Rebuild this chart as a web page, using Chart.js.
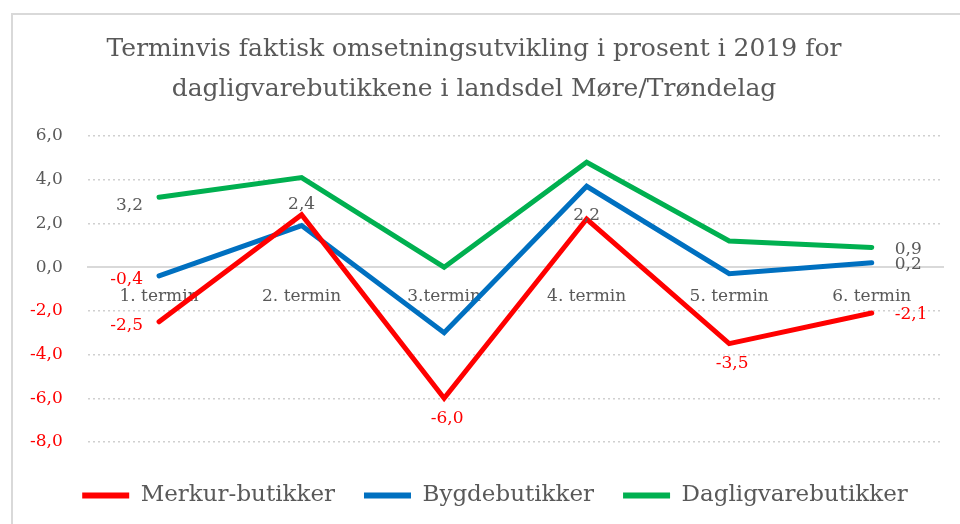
<!DOCTYPE html>
<html>
<head>
<meta charset="utf-8">
<script src="https://cdn.jsdelivr.net/npm/chart.js@4/dist/chart.umd.min.js"></script>
<style>
  html, body { margin: 0; padding: 0; background: #fff; }
  #wrap { position: relative; width: 960px; height: 524px; overflow: hidden; }
  #frame { position: absolute; left: 11px; top: 13px; width: 2000px; height: 2000px;
           border: 2px solid #d9d9d9; box-sizing: border-box; }
  #myChart { position: absolute; left: 0; top: 0; }
</style>
</head>
<body>
<div id="wrap">
  <div id="frame"></div>
  <canvas id="myChart" width="960" height="524"></canvas>
</div>
<script>
// data
const terms = ["1. termin", "2. termin", "3.termin", "4. termin", "5. termin", "6. termin"];
const merkur = [-2.5, 2.4, -6.0, 2.2, -3.5, -2.1];
const bygde = [-0.4, 1.9, -3.0, 3.7, -0.3, 0.2];
const daglig = [3.2, 4.1, 0.0, 4.8, 1.2, 0.9];
const yTicks = [-8, -6, -4, -2, 0, 2, 4, 6];

const SERIF = "'DejaVu Serif', 'Liberation Serif', serif";
const GRAY = "#595959";
const RED = "#ff0000";

// which points get a value label, and where it sits
const labelPlaces = [
  { 0: "left", 1: "above", 2: "below", 3: "above2", 4: "below", 5: "right" },
  { 0: "left", 5: "right" },
  { 0: "left3", 5: "right" },
];

function fmt(v) {
  return v.toFixed(1).replace(".", ",");
}

const valueLabels = {
  id: "valueLabels",
  afterLayout(chart) {
    // legend sits a bit right of centre in the original
    chart.legend.left += 21;
    chart.legend.right += 21;
  },
  afterDatasetsDraw(chart) {
    const ctx = chart.ctx;
    ctx.save();
    ctx.font = "17px " + SERIF;
    ctx.textBaseline = "middle";
    chart.data.datasets.forEach((ds, di) => {
      const meta = chart.getDatasetMeta(di);
      const places = labelPlaces[di];
      Object.keys(places).forEach((k) => {
        const i = Number(k);
        const pt = meta.data[i];
        const v = ds.data[i];
        const where = places[k];
        let x = pt.x, y = pt.y;
        ctx.textAlign = "center";
        if (where === "left") { ctx.textAlign = "right"; x -= 16; y += 4; }
        else if (where === "left3") { ctx.textAlign = "right"; x -= 16; y += 8; }
        else if (where === "right") { ctx.textAlign = "left"; x += 23; y += 2; }
        else if (where === "above") { y -= 10; }
        else if (where === "above2") { y -= 3; }
        else if (where === "below") { y += 20; x += 3; }
        ctx.fillStyle = v < 0 ? RED : GRAY;
        ctx.fillText(fmt(v), x, y);
      });
    });
    ctx.restore();
  },
};

function line(label, data, color) {
  return {
    label: label,
    data: data,
    borderColor: color,
    backgroundColor: color,
    borderWidth: 5,
    pointRadius: 0,
    tension: 0,
    borderCapStyle: "round",
    borderJoinStyle: "miter",
  };
}

const ctx = document.getElementById("myChart");
new Chart(ctx, {
  type: "line",
  data: {
    labels: terms,
    datasets: [
      line("Merkur-butikker", merkur, "#ff0000"),
      line("Bygdebutikker", bygde, "#0070c0"),
      line("Dagligvarebutikker", daglig, "#00b050"),
    ],
  },
  plugins: [valueLabels],
  options: {
    responsive: false,
    animation: false,
    layout: { padding: { top: 9, left: 5, right: 17, bottom: 7 } },
    plugins: {
      title: {
        display: true,
        text: [
          "Terminvis faktisk omsetningsutvikling i prosent i 2019 for",
          "dagligvarebutikkene i landsdel Møre/Trøndelag",
        ],
        color: GRAY,
        font: { family: SERIF, size: 25, weight: "normal", lineHeight: 1.6 },
        padding: { top: 20, bottom: 27 },
      },
      legend: {
        position: "bottom",
        title: { display: true, text: "", font: { size: 1, lineHeight: 1 }, padding: { top: 12, bottom: 0 } },
        labels: {
          color: GRAY,
          font: { family: SERIF, size: 23 },
          boxWidth: 47,
          boxHeight: 6,
          useBorderRadius: true,
          borderRadius: 3,
          padding: 29,
          generateLabels(chart) {
            return chart.data.datasets.map((ds, i) => ({
              text: ds.label,
              fillStyle: ds.borderColor,
              strokeStyle: ds.borderColor,
              lineWidth: 0,
              fontColor: GRAY,
              datasetIndex: i,
              hidden: false,
            }));
          },
        },
      },
      tooltip: { enabled: false },
    },
    scales: {
      x: {
        position: { y: 0 },
        offset: true,
        grid: { display: false, drawTicks: false },
        border: { display: true, color: "#d9d9d9", width: 2 },
        ticks: { color: GRAY, font: { family: SERIF, size: 17 }, padding: 19, maxRotation: 0 },
      },
      y: {
        min: -8,
        max: 6,
        afterBuildTicks(axis) {
          axis.ticks = yTicks.map((v) => ({ value: v }));
        },
        grid: {
          drawTicks: false,
          color: (c) => (c.tick && c.tick.value === 0 ? "rgba(0,0,0,0)" : "#d0d0d0"),
          lineWidth: 1.5,
        },
        border: { display: false, dash: [2, 3] },
        ticks: {
          padding: 25,
          font: { family: SERIF, size: 17 },
          color: (c) => (c.tick && c.tick.value < 0 ? RED : GRAY),
          callback: (v) => fmt(v),
        },
      },
    },
  },
});
</script>
</body>
</html>
